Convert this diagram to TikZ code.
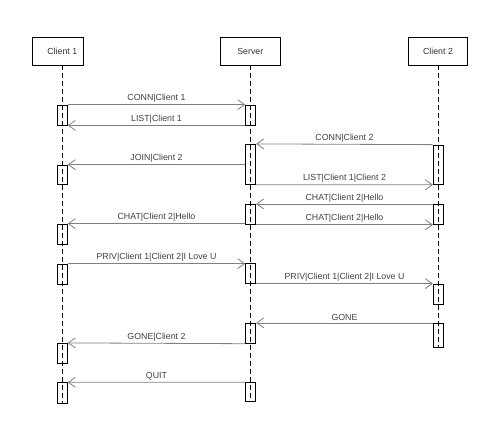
\documentclass[tikz,border=0pt]{standalone}
\usepackage{fontspec}
\setmainfont{Liberation Sans}
\usetikzlibrary{arrows.meta}
\begin{document}
\begin{tikzpicture}[x=1pt,y=-1pt,
  act/.style={draw=black, line width=0.8pt, rectangle, minimum width=10pt, inner sep=0pt},
  hdr/.style={draw=black, line width=0.8pt, rectangle, minimum height=27.7pt, inner sep=0pt},
  htxt/.style={font=\fontsize{8.8}{10}\selectfont, text=black!80, inner sep=0pt},
  life/.style={draw=black, line width=0.8pt, dash pattern=on 5pt off 3pt},
  msg/.style={draw=black!50, line width=0.8pt, -{Straight Barb[length=7pt,width=10pt,line width=0.8pt]}},
  lbl/.style={font=\fontsize{8.8}{10}\selectfont, text=black!75, above, inner sep=1.5pt, midway}]
\useasboundingbox (0,0) rectangle (502,437);
% headers
\node[hdr, minimum width=51pt] (h1) at (57.8,51.2) {};
\node[hdr, minimum width=59.3pt] (hs) at (250.3,51.2) {};
\node[hdr, minimum width=59.3pt] (h2) at (437.7,51.2) {};
\node[htxt] (t1) at (62.3,51.2) {Client 1};
\node[htxt] (ts) at (250.3,51.2) {Server};
\node[htxt] (t2) at (438,51.2) {Client 2};
% activation boxes (Client 1)
\node[act, minimum height=20pt] (a1) at (62.3,115) {};
\node[act, minimum height=19.3pt] (a2) at (62.3,174.7) {};
\node[act, minimum height=20pt] (a3) at (62.3,234) {};
\node[act, minimum height=20pt] (a4) at (62.3,274) {};
\node[act, minimum height=20pt] (a5) at (62.3,353.3) {};
\node[act, minimum height=20.6pt] (a6) at (62.3,393) {};
% Server
\node[act, minimum height=20pt] (s1) at (250.7,115) {};
\node[act, minimum height=40pt] (s2) at (250.7,164.3) {};
\node[act, minimum height=20pt] (s3) at (250.7,214.3) {};
\node[act, minimum height=20pt] (s4) at (250.7,273.3) {};
\node[act, minimum height=20pt] (s5) at (250.7,333.3) {};
\node[act, minimum height=18.3pt] (s6) at (250.7,391.8) {};
% Client 2
\node[act, minimum height=39.3pt] (c1) at (438.3,164.7) {};
\node[act, minimum height=20pt] (c2) at (438.3,214.3) {};
\node[act, minimum height=20pt] (c3) at (438.3,294) {};
\node[act, minimum height=24pt] (c4) at (438.3,335.3) {};
% lifelines
\draw[life] (a1.center |- h1.south) -- (a6.south);
\draw[life] (s1.center |- hs.south) -- (s6.south);
\draw[life] (c1.center |- h2.south) -- (c4.south);
% messages
\draw[msg] (a1.north east) -- node[lbl] {CONN|Client 1} (s1.north west);
\draw[msg] (s1.south west) -- node[lbl] {LIST|Client 1} (a1.south east);
\draw[msg] (c1.north west) -- node[lbl] {CONN|Client 2} (s2.north east);
\draw[msg] (s2.west |- a2.north) -- node[lbl] {JOIN|Client 2} (a2.north east);
\draw[msg] (s2.south east) -- node[lbl] {LIST|Client 1|Client 2} (c1.south west);
\draw[msg] (c2.north west) -- node[lbl] {CHAT|Client 2|Hello} (s3.north east);
\draw[msg] (s3.south east) -- node[lbl] {CHAT|Client 2|Hello} (c2.south west);
\draw[msg] (s3.west |- a3.north) -- node[lbl] {CHAT|Client 2|Hello} (a3.north east);
\draw[msg] (a4.north east) -- node[lbl] {PRIV|Client 1|Client 2|I Love U} (s4.west |- a4.north);
\draw[msg] (s4.east |- c3.north) -- node[lbl] {PRIV|Client 1|Client 2|I Love U} (c3.north west);
\draw[msg] (c4.north west) -- node[lbl] {GONE} (s5.north east);
\draw[msg] (s5.south west) -- node[lbl] {GONE|Client 2} (a5.north east);
\draw[msg] (s6.north west) -- node[lbl] {QUIT} (a6.north east);
\end{tikzpicture}
\end{document}
